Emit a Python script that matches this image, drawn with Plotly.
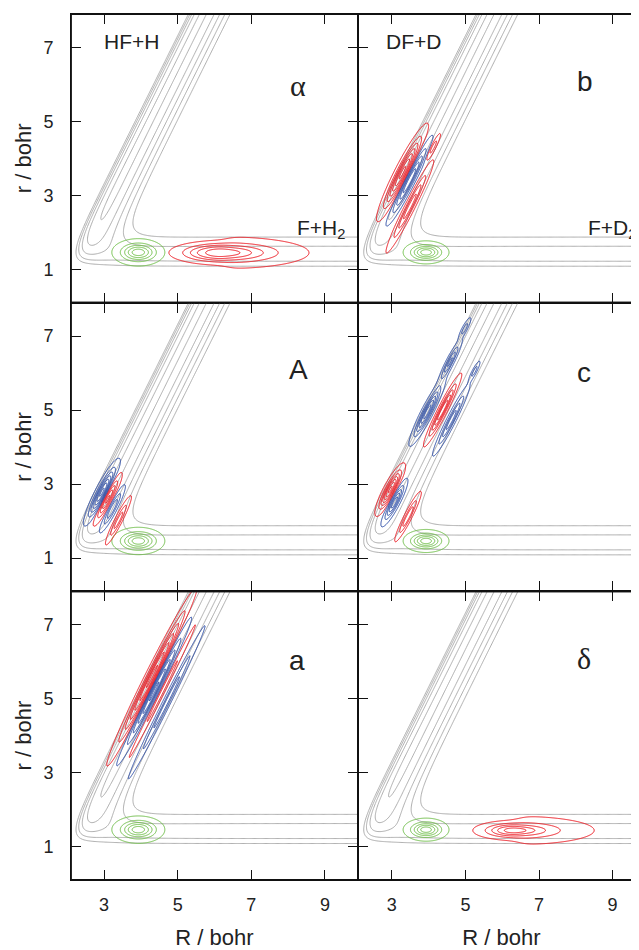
import numpy as np
import plotly.graph_objects as go

# ---------------- data ----------------
PANEL_LABELS = [["α", "b"], ["A", "c"], ["a", "δ"]]
X_TICKS = [3, 5, 7, 9]
Y_TICKS = [1, 3, 5, 7]
R_RANGE = [[2.1, 9.9], [2.08, 9.88]]
r_RANGE = [0.1, 7.9]

# gray potential-energy contours (eV relative to F + H2 asymptote)
PES_LEVELS = [-1.3, -0.8, -0.3, 0.2, 0.7]
# LEPS parameters: (D [eV], beta [1/bohr], re [bohr], Sato)
HF_PAR = (6.122, 1.1741, 1.733, 0.167)
HH_PAR = (4.7466, 1.0280, 1.4014, 0.25)

# wave-packet contour levels
WP_LEVELS = [0.05, 0.25, 0.45, 0.65, 0.85]
LOBE_LEVELS = [0.05, 0.20, 0.35, 0.50, 0.65, 0.80, 0.95]

# green initial packet: (R0, r0, sR_left, sR_right, sr, p_left, p_right, amp)
GREEN = [(3.93, 1.46, 0.416, 0.416, 0.214, 2.0, 2.0, 1.0),
         (3.93, 1.46, 0.360, 0.360, 0.180, 2.0, 2.0, 1.0)]
RED_ALPHA = (6.27, 1.45, 1.005, 1.205, 0.225, 2.7, 1.7, 1.0)
RED_DELTA = (6.38, 1.44, 0.732, 0.940, 0.170, 2.3, 1.35, 1.0)

# product-channel lobes: (q0 = R - r/2, p0 = r, sq, sp, amplitude)
LOBES_b = [(1.48, 3.62, 0.14, 0.77, 1.0),
           (1.78, 3.40, 0.11, 0.74, -0.8),
           (2.14, 2.70, 0.10, 0.80, 0.6),
           (1.97, 4.30, 0.06, 0.28, 0.3)]
LOBES_A = [(1.55, 2.78, 0.12, 0.53, -1.0),
           (1.80, 2.59, 0.10, 0.45, 0.7),
           (2.06, 2.33, 0.09, 0.43, -0.5),
           (2.38, 2.02, 0.08, 0.45, 0.45)]
LOBES_c = [(1.53, 2.85, 0.12, 0.42, 1.0),
           (1.82, 2.50, 0.10, 0.40, -0.75),
           (2.38, 2.12, 0.08, 0.45, 0.5),
           (1.49, 4.95, 0.11, 0.55, -0.9),
           (1.43, 6.30, 0.08, 0.40, -0.55),
           (1.38, 7.20, 0.06, 0.22, -0.3),
           (1.88, 5.00, 0.09, 0.60, 0.8),
           (2.25, 4.73, 0.09, 0.62, -0.6),
           (2.22, 6.05, 0.05, 0.20, -0.3)]
LOBES_a = [(1.50, 5.60, 0.12, 1.40, 1.0),
           (1.76, 5.20, 0.10, 1.20, -0.85),
           (1.98, 5.20, 0.06, 1.35, 0.3),
           (2.25, 4.90, 0.08, 1.40, -0.45)]

# ---------------- colours / layout ----------------
W, H = 639, 950
OFF = 8  # page body margin of the browser
X_EDGES = [71 - OFF, 358 - OFF, 645 - OFF]
Y_EDGES = [14 - OFF, 302.7 - OFF, 591.3 - OFF, 880 - OFF]
GRAY, RED, BLUE, GREEN_C = "#a3a3a3", "#ea1820", "#2e4ea6", "#6cbd45"
FONT = "Liberation Sans, Arial, sans-serif"


def leps_parts(x, D, b, re, S):
    e1 = np.exp(-b * (x - re))
    e2 = e1 * e1
    c = D / (4 * (1 + S))
    Q = c * ((3 + S) * e2 - (2 + 6 * S) * e1)
    J = c * ((1 + 3 * S) * e2 - (6 + 2 * S) * e1)
    return Q, J


def pes(R, r):
    rab = R - r / 2
    rab_s = np.maximum(rab, 0.4)
    Qab, Jab = leps_parts(rab_s, *HF_PAR)
    Qbc, Jbc = leps_parts(r, *HH_PAR)
    Qac, Jac = leps_parts(R + r / 2, *HF_PAR)
    V = Qab + Qbc + Qac - np.sqrt(0.5 * ((Jab - Jbc) ** 2 + (Jbc - Jac) ** 2 + (Jac - Jab) ** 2))
    E = V + HH_PAR[0]
    E = np.where(rab < 0.45, 5.0, E)
    return np.clip(E, -3, 5)


def blob(R, r, R0, r0, sRl, sRr, sr, pl, pr, amp):
    dR = R - R0
    sR = np.where(dR < 0, sRl, sRr)
    rho = np.sqrt((dR / sR) ** 2 + ((r - r0) / sr) ** 2)
    w = 0.5 * (1 + np.tanh(dR / 0.25))
    pw = pl * (1 - w) + pr * w
    return amp * np.exp(-rho ** pw)


def lobe_field(R, r, lobes):
    q = R - r / 2
    f = np.zeros_like(R)
    for q0, p0, sq, sp, a in lobes:
        f += a * np.exp(-((q - q0) / sq) ** 2 - ((r - p0) / sp) ** 2)
    return f


def grid(r0, r1, s0, s1, step):
    Rv = np.arange(r0, r1 + step / 2, step)
    rv = np.arange(s0, s1 + step / 2, step)
    RR, rr = np.meshgrid(Rv, rv)
    return Rv, rv, RR, rr


def contour(xa, ya, Rv, rv, Z, color, levels, width=1.0):
    lv = sorted(levels)
    size = (lv[-1] - lv[0]) / (len(lv) - 1) if len(lv) > 1 else 1
    return go.Contour(
        x=Rv.astype(np.float32), y=rv.astype(np.float32), z=Z.astype(np.float32),
        xaxis=xa, yaxis=ya, autocontour=False,
        contours=dict(start=lv[0], end=lv[-1], size=size, coloring="lines"),
        colorscale=[[0, color], [1, color]], showscale=False,
        line=dict(width=width, smoothing=1.0), hoverinfo="skip", showlegend=False)


fig = go.Figure()

Rp, rp, RRp, rrp = grid(2.0, 9.95, 0.1, 7.95, 0.025)
Epes = pes(RRp, rrp)

Rw, rw, RRw, rrw = grid(2.0, 7.2, 0.5, 8.0, 0.018)
Rg, rg, RRg, rrg = grid(2.8, 5.1, 0.7, 2.3, 0.012)
Rr, rr_, RRr, rrr = grid(4.0, 9.9, 0.7, 2.3, 0.015)

lobes_by_panel = {(0, 1): LOBES_b, (1, 0): LOBES_A, (1, 1): LOBES_c, (2, 0): LOBES_a}

for row in range(3):
    for col in range(2):
        i = row * 2 + col + 1
        xa, ya = f"x{i}" if i > 1 else "x", f"y{i}" if i > 1 else "y"
        fig.add_trace(contour(xa, ya, Rp, rp, Epes, GRAY, PES_LEVELS, 0.9))
        Zg = blob(RRg, rrg, *GREEN[col])
        fig.add_trace(contour(xa, ya, Rg, rg, Zg, GREEN_C, WP_LEVELS))
        if (row, col) == (0, 0) or (row, col) == (2, 1):
            par = RED_ALPHA if col == 0 else RED_DELTA
            Zr = blob(RRr, rrr, *par)
            fig.add_trace(contour(xa, ya, Rr, rr_, Zr, RED, WP_LEVELS))
        else:
            Zw = lobe_field(RRw, rrw, lobes_by_panel[(row, col)])
            fig.add_trace(contour(xa, ya, Rw, rw, Zw, RED, LOBE_LEVELS))
            fig.add_trace(contour(xa, ya, Rw, rw, -Zw, BLUE, LOBE_LEVELS))

layout = dict(width=W, height=H, autosize=False, margin=dict(l=0, r=0, t=0, b=0),
              paper_bgcolor="white", plot_bgcolor="white", showlegend=False,
              font=dict(family=FONT, color="#222"))

shapes = []
for row in range(3):
    for col in range(2):
        i = row * 2 + col + 1
        sfx = str(i) if i > 1 else ""
        xd = [X_EDGES[col] / W, X_EDGES[col + 1] / W]
        yd = [1 - Y_EDGES[row + 1] / H, 1 - Y_EDGES[row] / H]
        common = dict(showline=True, linecolor="#111", linewidth=1, mirror="allticks",
                      ticks="inside", ticklen=10, tickwidth=1.3, tickcolor="#111",
                      showgrid=False, zeroline=False, fixedrange=True, automargin=False,
                      tickfont=dict(size=18, family=FONT, color="#222"))
        xax = dict(common, domain=xd, range=R_RANGE[col], tickvals=X_TICKS,
                   ticktext=[str(v) for v in X_TICKS], anchor="y" + sfx,
                   showticklabels=(row == 2), ticklabelstandoff=8)
        yax = dict(common, domain=yd, range=r_RANGE, tickvals=Y_TICKS,
                   ticktext=[str(v) for v in Y_TICKS], anchor="x" + sfx,
                   showticklabels=(col == 0), ticklabelstandoff=13)
        if row == 2:
            xax["title"] = dict(text="R / bohr", font=dict(size=22, family=FONT, color="#222"), standoff=16)
        if col == 0:
            yax["title"] = dict(text="r / bohr", font=dict(size=22, family=FONT, color="#222"), standoff=5)
        layout["xaxis" + sfx] = xax
        layout["yaxis" + sfx] = yax
        shapes.append(dict(type="rect", xref="paper", yref="paper", x0=xd[0], x1=xd[1],
                           y0=yd[0], y1=yd[1], line=dict(color="#111", width=1.8),
                           fillcolor="rgba(0,0,0,0)", layer="above"))
layout["shapes"] = shapes

ann = []
label_pos = {(0, 0): (298, 85), (0, 1): (585, 82), (1, 0): (298, 370),
             (1, 1): (584, 372), (2, 0): (297, 660), (2, 1): (584, 658)}
for (row, col), (px, py) in label_pos.items():
    t = PANEL_LABELS[row][col]
    greek = t in ("α", "δ")
    ann.append(dict(text=t, x=(px - OFF) / W, y=1 - (py - OFF) / H, xref="paper", yref="paper",
                    showarrow=False, xanchor="center", yanchor="middle",
                    font=dict(size=30 if greek else 28,
                              family="Liberation Serif, serif" if greek else FONT, color="#222")))
for txt, px, py, anc in [("HF+H", 131, 41, "center"), ("DF+D", 414, 41, "center"),
                         ("F+H<sub>2</sub>", 295, 229, "left"), ("F+D<sub>2</sub>", 586, 229, "left")]:
    ann.append(dict(text=txt, x=(px - OFF) / W, y=1 - (py - OFF) / H, xref="paper", yref="paper",
                    showarrow=False, xanchor=anc, yanchor="middle",
                    font=dict(size=21, family=FONT, color="#222")))
layout["annotations"] = ann

fig.update_layout(**layout)
fig.write_html("out.html")
